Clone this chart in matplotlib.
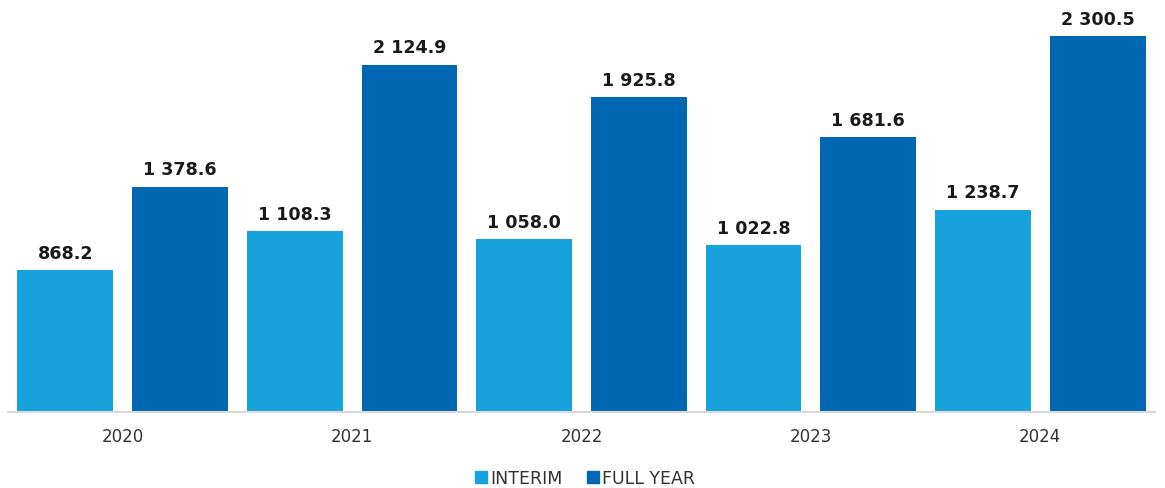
import matplotlib.pyplot as plt
from matplotlib.patches import Patch
import numpy as np

plt.rcParams['font.family'] = ['DejaVu Sans']

years = ["2020", "2021", "2022", "2023", "2024"]
interim = [868.2, 1108.3, 1058.0, 1022.8, 1238.7]
full_year = [1378.6, 2124.9, 1925.8, 1681.6, 2300.5]

c_interim = "#17a2dc"
c_full = "#0068b3"

def fmt(v):
    return f"{v:,.1f}".replace(",", " ")

fig = plt.figure(figsize=(11.65, 4.89), dpi=100)
ax = fig.add_axes([8 / 1165, 1 - 413 / 489, 1147 / 1165, 403 / 489])

x = np.arange(len(years))
w = 0.418
off = (w + 19 / 229.4) / 2
b1 = ax.bar(x - off, interim, w, color=c_interim)
b2 = ax.bar(x + off, full_year, w, color=c_full)

for bars, vals in ((b1, interim), (b2, full_year)):
    for r, v in zip(bars, vals):
        ax.annotate(fmt(v), (r.get_x() + r.get_width() / 2, v),
                    xytext=(0, 6), textcoords="offset points",
                    ha="center", va="bottom", fontsize=12.6,
                    fontweight="bold", color="#1a1a1a")

ax.set_xlim(-0.5, len(years) - 0.5)
ax.set_ylim(0, 403 / 0.1634)
ax.set_xticks(x)
ax.set_xticklabels(years, fontsize=12, color="#333333")
ax.tick_params(axis="x", length=0, pad=11)
ax.set_yticks([])
for s in ("top", "right", "left"):
    ax.spines[s].set_visible(False)
ax.spines["bottom"].set_color("#d9d9d9")
ax.spines["bottom"].set_linewidth(1.5)

handles = [Patch(color=c_interim, label="INTERIM"), Patch(color=c_full, label="FULL YEAR")]
fig.legend(handles=handles, loc="center", bbox_to_anchor=(585 / 1165, 1 - 479 / 489),
           ncol=2, frameon=False, fontsize=12.5, handlelength=0.7, handleheight=0.7,
           handletextpad=0.2, columnspacing=1.4, labelcolor="#333333")

fig.savefig("out.png", dpi=100)
